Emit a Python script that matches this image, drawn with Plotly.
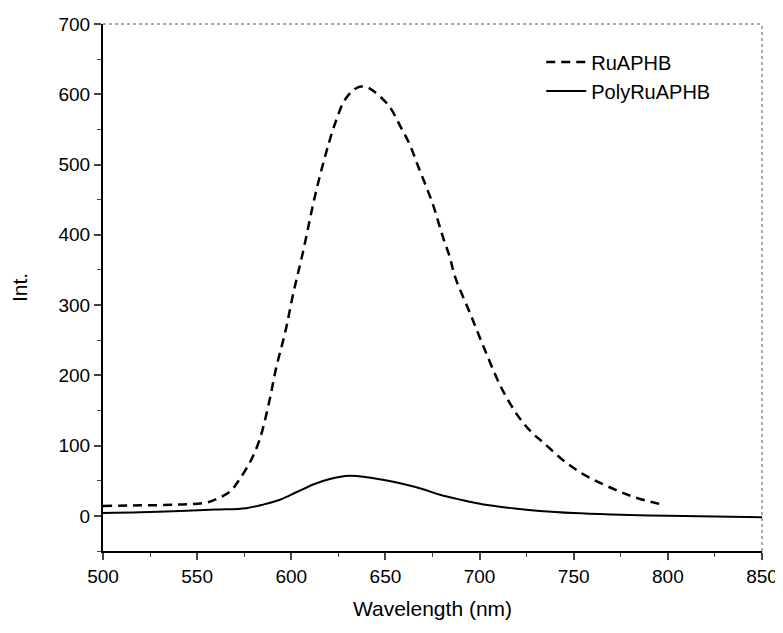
import plotly.graph_objects as go

# RuAPHB (dashed)
ru_wl = [500, 520, 540, 555, 562, 568, 572, 578, 583, 588, 592, 597, 601, 606, 613, 620, 624, 628,
         633, 637, 641, 644, 652, 658, 663, 667, 671, 675, 678, 681, 684, 687, 695, 703, 712, 721,
         728, 734, 744, 754, 764, 774, 783, 797]
ru_int = [14, 15, 16, 19, 26, 36, 50, 76, 107, 159, 211, 264, 316, 373, 460, 531, 564, 590,
          606, 611, 609, 604, 583, 554, 528, 500, 473, 445, 419, 393, 370, 340, 288, 235, 180, 140,
          118, 104, 80, 61, 47, 35, 26, 16]

# PolyRuAPHB (solid)
poly_wl = [500, 520, 541, 560, 576, 585, 594, 603, 612, 620, 631, 640, 647, 660, 670, 679, 690,
           705, 720, 732, 750, 770, 785, 800, 825, 850]
poly_int = [4, 5, 7, 9, 11, 16, 23, 34, 45, 52, 57, 55, 52, 45, 38, 30, 23,
            15, 10, 7, 4, 2, 1, 0, -1, -2]

x_ticks = [500, 550, 600, 650, 700, 750, 800, 850]
y_ticks = [0, 100, 200, 300, 400, 500, 600, 700]

fig = go.Figure()
fig.add_trace(go.Scatter(x=ru_wl, y=ru_int, mode="lines", name="RuAPHB",
                         line=dict(color="black", width=2.5, dash="9px,6px", shape="spline", smoothing=1.0)))
fig.add_trace(go.Scatter(x=poly_wl, y=poly_int, mode="lines", name="PolyRuAPHB",
                         line=dict(color="black", width=2, shape="spline", smoothing=1.0)))

font = "Liberation Sans, Arial, sans-serif"
fig.update_layout(
    width=783, height=633,
    margin=dict(l=95, r=29, t=16, b=90, autoexpand=False),
    paper_bgcolor="white", plot_bgcolor="white",
    font=dict(family=font, color="black", size=19),
    showlegend=True,
    legend=dict(x=0.665, y=0.965, xanchor="left", yanchor="top",
                bgcolor="rgba(0,0,0,0)", font=dict(size=20, family=font),
                tracegroupgap=0, itemwidth=40),
    xaxis=dict(range=[500, 850], tickvals=x_ticks, ticks="outside", ticklen=7, tickwidth=1.5,
               showline=True, linecolor="black", linewidth=2, showgrid=False, zeroline=False,
               automargin=False,
               minor=dict(dtick=25, ticks="outside", ticklen=4, tickwidth=1.2, showgrid=False),
               title=dict(text="Wavelength (nm)", font=dict(size=21), standoff=16),
               tickfont=dict(size=19)),
    yaxis=dict(range=[-50, 700], tickvals=y_ticks, ticks="outside", ticklen=7, tickwidth=1.5,
               showline=True, linecolor="black", linewidth=2, showgrid=False, zeroline=False,
               automargin=False,
               minor=dict(dtick=50, ticks="outside", ticklen=4, tickwidth=1.2, showgrid=False),
               title=dict(text="Int.", font=dict(size=21), standoff=28),
               tickfont=dict(size=19)),
    shapes=[
        dict(type="line", xref="paper", yref="paper", x0=0, x1=1, y0=1, y1=1,
             line=dict(color="#555", width=1, dash="dot")),
        dict(type="line", xref="paper", yref="paper", x0=1, x1=1, y0=0, y1=1,
             line=dict(color="#555", width=1, dash="dot")),
    ],
)

fig.write_html("out.html")
